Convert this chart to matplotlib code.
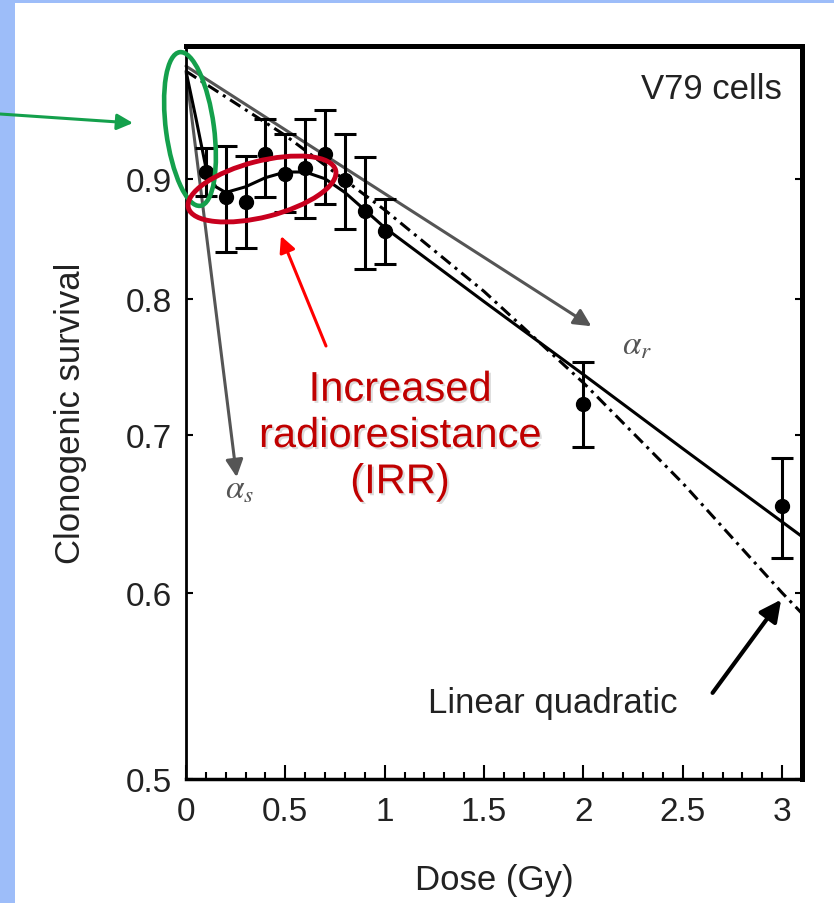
import matplotlib
matplotlib.use('Agg')
import matplotlib.pyplot as plt
from matplotlib.patches import Ellipse, Rectangle
from matplotlib.ticker import MultipleLocator, NullLocator
import matplotlib.patheffects as pe

plt.rcParams['font.family'] = ['Liberation Sans', 'DejaVu Sans']
plt.rcParams['mathtext.fontset'] = 'stix'

# measured points: dose (Gy) vs clonogenic survival, with error bar ends
dose = [0.1, 0.2, 0.3, 0.4, 0.5, 0.6, 0.7, 0.8, 0.9, 1.0, 2.0, 3.0]
surv = [0.906, 0.884, 0.880, 0.922, 0.904, 0.910, 0.922, 0.899, 0.872, 0.855, 0.722, 0.653]
surv_hi = [0.928, 0.929, 0.920, 0.954, 0.940, 0.954, 0.963, 0.940, 0.919, 0.882, 0.752, 0.685]
surv_lo = [0.885, 0.838, 0.841, 0.884, 0.871, 0.866, 0.878, 0.857, 0.824, 0.828, 0.692, 0.621]

# induced repair fit (solid)
fit_dose = [0, 0.05, 0.1, 0.15, 0.2, 0.3, 0.4, 0.5, 0.6, 0.7, 0.8, 1.0, 1.5, 2.0, 2.5, 3.1]
fit_surv = [1.0, 0.955, 0.91, 0.893, 0.888, 0.893, 0.901, 0.906, 0.906, 0.900, 0.888, 0.858, 0.798, 0.743, 0.691, 0.634]

# linear quadratic fit (dash-dot)
lq_dose = [0, 0.5, 1.0, 1.5, 2.0, 2.5, 3.0, 3.1]
lq_surv = [1.0, 0.939, 0.873, 0.806, 0.737, 0.668, 0.600, 0.588]

x_ticks = [0, 0.5, 1, 1.5, 2, 2.5, 3]
x_labels = ['0', '0.5', '1', '1.5', '2', '2.5', '3']
y_ticks = [0.5, 0.6, 0.7, 0.8, 0.9]
y_labels = ['0.5', '0.6', '0.7', '0.8', '0.9']

txt = '#222222'
grey = '#555555'

fig = plt.figure(figsize=(8.34, 9.04), dpi=100)
ax = fig.add_axes([186 / 834, 1 - 780 / 904, 616 / 834, 733 / 904])

ax.set_yscale('log')
ax.set_xlim(0, 3.1)
ax.set_ylim(0.5, 1.025)

ax.plot(fit_dose, fit_surv, color='black', lw=2.2, zorder=3)
ax.plot(lq_dose, lq_surv, color='black', lw=2.2, dashes=(4, 1.8, 1, 1.8), zorder=3)

yerr = [[s - lo for s, lo in zip(surv, surv_lo)], [hi - s for s, hi in zip(surv, surv_hi)]]
ax.errorbar(dose, surv, yerr=yerr, fmt='o', color='black', ms=10, lw=2.2,
            capsize=8, capthick=2.2, zorder=4)

# alpha_s / alpha_r slope arrows and LQ pointer
ax.annotate('', xy=(0.255, 0.672), xytext=(0, 1.0),
            arrowprops=dict(arrowstyle='-|>', color=grey, lw=2.2, mutation_scale=26,
                            shrinkA=0, shrinkB=0), zorder=2)
ax.annotate('', xy=(2.04, 0.779), xytext=(0, 1.005),
            arrowprops=dict(arrowstyle='-|>', color=grey, lw=2.2, mutation_scale=26,
                            shrinkA=0, shrinkB=0), zorder=2)
ax.annotate('', xy=(2.995, 0.596), xytext=(2.65, 0.544),
            arrowprops=dict(arrowstyle='-|>', color='black', lw=3, mutation_scale=32,
                            shrinkA=0, shrinkB=0), zorder=2)

ax.text(2.27, 0.765, r'$\alpha_r$', fontsize=24, color=grey, ha='center', va='center')
ax.text(0.27, 0.664, r'$\alpha_s$', fontsize=24, color=grey, ha='center', va='center')
ax.text(0.9675, 0.965, 'V79 cells', transform=ax.transAxes, ha='right', va='top',
        fontsize=25, color=txt)
ax.text(1.846, 0.539, 'Linear quadratic', ha='center', va='center', fontsize=25, color=txt)

ax.set_xticks(x_ticks, x_labels)
ax.xaxis.set_minor_locator(MultipleLocator(0.1))
ax.set_yticks(y_ticks, y_labels)
ax.yaxis.set_minor_locator(NullLocator())
ax.tick_params(axis='x', which='major', direction='in', length=10, width=1.5,
               labelsize=24, pad=12, labelcolor=txt)
ax.tick_params(axis='x', which='minor', direction='in', length=5, width=1.5)
ax.tick_params(axis='y', which='major', direction='in', length=5, width=1.5,
               labelsize=24, pad=10, labelcolor=txt, right=True)
ax.set_xlabel('Dose (Gy)', fontsize=25, color=txt, labelpad=26)
ax.set_ylabel('Clonogenic survival', fontsize=25, color=txt, labelpad=28)

ax.spines['left'].set_linewidth(2)
ax.spines['bottom'].set_linewidth(2.5)
ax.spines['top'].set_linewidth(3.6)
ax.spines['right'].set_linewidth(3.6)

# slide overlay in pixel coordinates
ov = fig.add_axes([0, 0, 1, 1], zorder=10)
ov.set_xlim(0, 834)
ov.set_ylim(904, 0)
ov.axis('off')
ov.patch.set_alpha(0)

blue = '#9DBDF9'
ov.add_patch(Rectangle((0, 0), 15, 904, color=blue, lw=0))
ov.add_patch(Rectangle((0, 0), 834, 4, color=blue, lw=0))

green = '#14A04C'
ov.add_patch(Ellipse((190, 130), width=48, height=155, angle=-7.6,
                     fill=False, edgecolor=green, lw=3.3))
ov.annotate('', xy=(133, 124), xytext=(0, 115),
            arrowprops=dict(arrowstyle='-|>', color=green, lw=2.2, mutation_scale=24,
                            shrinkA=0, shrinkB=0))

red_dark = '#C8001E'
ov.add_patch(Ellipse((262, 190), width=152, height=56, angle=-14.3,
                     fill=False, edgecolor=red_dark, lw=3.5))
ov.annotate('', xy=(281, 237), xytext=(326, 347),
            arrowprops=dict(arrowstyle='-|>', color='#FF0000', lw=2.2, mutation_scale=24,
                            shrinkA=0, shrinkB=0))
ov.text(400, 437, 'Increased\nradioresistance\n(IRR)', ha='center', va='center',
        fontsize=30, color='#C00000', linespacing=1.2,
        path_effects=[pe.withSimplePatchShadow(offset=(1.5, -1.5), shadow_rgbFace='#999999', alpha=0.35)])

fig.savefig('out.png', dpi=100, facecolor='white')
